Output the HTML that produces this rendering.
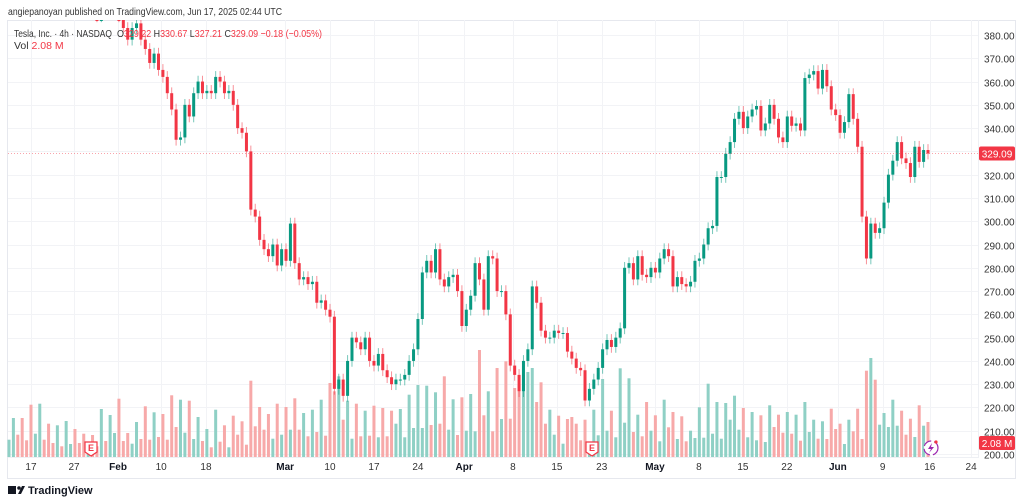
<!DOCTYPE html>
<html><head><meta charset="utf-8"><style>
html,body{margin:0;padding:0;background:#fff;}
svg{display:block;font-family:"Liberation Sans",sans-serif;}
</style></head><body>
<svg id="chart" width="1024" height="504" viewBox="0 0 1024 504" xmlns="http://www.w3.org/2000/svg">
<rect width="1024" height="504" fill="#fff"/>
<text x="8" y="15" font-size="10.5" fill="#333" textLength="274" lengthAdjust="spacingAndGlyphs">angiepanoyan published on TradingView.com, Jun 17, 2025 02:44 UTC</text>
<rect x="7.5" y="20.5" width="1008" height="458" fill="none" stroke="#e6e8ee"/>
<line x1="978.5" y1="20" x2="978.5" y2="458" stroke="#eef0f4"/>
<line x1="8" y1="457.5" x2="978" y2="457.5" stroke="#eef0f4"/>
<g id="grid"></g>
<g id="vols"></g>
<g id="candles"></g>
<g id="axes"></g>
<text x="14" y="37" font-size="10.5" fill="#333" textLength="98" lengthAdjust="spacingAndGlyphs">Tesla, Inc. · 4h · NASDAQ</text>
<text x="117" y="37" font-size="10.5" fill="#333" textLength="205" lengthAdjust="spacingAndGlyphs">O<tspan fill="#f23645">329.22</tspan> H<tspan fill="#f23645">330.67</tspan> L<tspan fill="#f23645">327.21</tspan> C<tspan fill="#f23645">329.09</tspan> <tspan fill="#f23645">−0.18 (−0.05%)</tspan></text>
<text x="14" y="49" font-size="10.5" fill="#333">Vol <tspan fill="#f23645">2.08 M</tspan></text>
<g>
<rect x="8" y="486" width="8" height="8" fill="#131722"/><circle cx="19" cy="488" r="1.8" fill="#131722"/><path d="M18 494 L22 486 L25 486 L21 494 Z" fill="#131722"/>
<text x="28" y="494" font-size="11" font-weight="bold" fill="#131722">TradingView</text>
</g>
</svg>
<script>
const closes=[418,425,420,415,
412,408,416,420,405,400,398,402,396,399,404,400,395,392,394,
390,388,392,390,392,395,388,383,378,383,385,378,374,368,372,365,362,355,348,335,336,350,345,355,360,355,356,355,362,360,355,356,350,340,338,330,305,302,292,288,285,290,281,288,283,299,282,275,276,273,274,265,266,262,259,228,232,225,240,250,248,245,250,240,238,243,236,233,230,232,232,234,240,245,258,278,283,278,288,275,272,276,277,270,255,262,268,282,275,262,285,284,270,270,260,238,234,227,240,245,272,265,253,250,250,
253,252,252,244,241,237,236,223,228,232,237,245,249,246,250,254,280,282,275,285,277,276,280,278,284,288,285,272,276,273,272,274,283,284,
290,297,298,319,319,329,334,344,347,340,345,348,349.5,339,342,350,344,336,334,345,341,342,339,361.5,363,364.5,357,365,358,348,345.6,338,342.6,354.6,344,332,
302,284,299,295,297,308,320,326,334,327,325,319,332,325.5,330.6,329.09];
const volumes=[17.3,39,22.3,39,16.7,52.3,23.3,53.3,17.3,33.3,
14,31.7,10.7,36,13,28,14,23.3,10,22,
10.7,48,16,42,24,58.3,16,24,13.3,35,
18,50.7,17.3,44.7,20,43,17.3,61.7,30,57.3,
24.3,56.3,18,40,16,28,9.7,47.3,15.3,31.7,
9.7,41.3,22.3,35.7,12.3,76.3,30.7,50,27.3,43,
18.3,53.3,22.3,50,27.3,58.7,27.3,44,20.7,47.3,
25,57.3,21.3,74,65.7,80.7,37.3,56.3,18.3,53.3,
20.7,46.3,21.3,51.3,19.7,49,20.7,46.3,33.3,48,
19.7,62.3,29,72,29,71.3,32,64.7,33.3,80.7,
27.3,57.7,22,59.7,26.3,63,
25.7,107,41.7,65.7,25.7,89,38,95.7,38.3,69,
72.3,82.3,85,89,55,74.7,33.3,47.3,22.3,41.3,
13.3,38,40,33.3,16.7,37.3,7,47.3,21.7,78,
26.3,46.3,19.7,88.7,34.3,78.7,25,42.3,20.7,55,
26.3,41.7,15.7,57.3,29.7,45,18,40.7,15.7,26.3,
19,49.7,19.3,73.3,23.3,55,18.3,54,37.3,61.3,
27.3,49,19.7,45,16.7,41.7,15,51.7,30,42.3,
24.3,45,23.3,42.3,16.3,55,25,37.3,18.3,35.7,
18,48.3,28,33.3,13,37.3,25.7,48.3,18,86.3,
99,77.3,32.3,44,30,57.3,31.3,46.3,22.3,38.3,
20,51.7,31.3,35];
const priceTicks=[380,370,360,350,340,330,320,310,300,290,280,270,260,250,240,230,220,210,200];
const dateLabels=["17","27","Feb","10","18","Mar","10","17","24","Apr","8","15","23","May","8","15","22","Jun","9","16","24"];
const dateBarIndex=[5,14.8,24.8,34.6,44.8,62.8,73,83,93,103.5,114.6,124.6,134.8,146.9,156.9,166.9,176.9,188.5,198.7,209.4,218.8];
const lastPrice=329.09;

const N=Math.min(closes.length,volumes.length);
const X0=9, X1=928;
const step=(X1-X0)/(N-1);
const xScale=i=>X0+i*step;
const yPrice=p=>35+(380-p)*2.328;
const yVol=v=>457-v;
const NS="http://www.w3.org/2000/svg";
function mk(tag,attrs,parent){const e=document.createElementNS(NS,tag);for(const k in attrs)e.setAttribute(k,attrs[k]);parent.appendChild(e);return e;}
const grid=document.getElementById('grid'),vg=document.getElementById('vols'),cg=document.getElementById('candles'),ag=document.getElementById('axes');
const GREEN="#089981",RED="#f23645";

priceTicks.forEach(p=>{
  const y=Math.round(yPrice(p))+0.5;
  const gl=mk('line',{x1:8,x2:978,y1:y,y2:y,stroke:'#f2f3f6'},grid);
  
  
  const t=mk('text',{x:984,y:y+4,'font-size':10,fill:'#333'},ag);
  t.textContent=p.toFixed(2);
  
  
});
dateLabels.forEach((d,k)=>{
  const x=xScale(dateBarIndex[k]);
  const gl=mk('line',{x1:Math.round(x)+0.5,x2:Math.round(x)+0.5,y1:20,y2:457,stroke:'#f2f3f6'},grid);
  
  
  const isMonth=isNaN(+d);
  const t=mk('text',{x:x,y:470,'font-size':10,'text-anchor':'middle',fill:isMonth?'#131722':'#333','font-weight':isMonth?'bold':'normal'},ag);
  t.textContent=d;
  
  
});

for(let i=0;i<N;i++){
  const c=closes[i], o=i>0?closes[i-1]:c;
  const up=c>=o;
  const x=xScale(i);
  const vh=volumes[i];
  const vb=mk('rect',{x:x-1.5,y:yVol(vh),width:3,height:vh,fill:up?'#8fd0c5':'#f7a9a9'},vg);
  
  
  const hi=Math.max(o,c)+2.5, lo=Math.min(o,c)-2.5;
  const col=up?GREEN:RED;
  const yh=Math.max(yPrice(hi),20), yl=yPrice(lo);
  if(yl<20) continue;
  const w=mk('line',{x1:x,x2:x,y1:yh,y2:yl,stroke:col,'stroke-opacity':0.55,'stroke-width':1},cg);
  
  
  const yt=Math.max(yPrice(Math.max(o,c)),20), yb=yPrice(Math.min(o,c));
  const b=mk('rect',{x:x-1.5,y:yt,width:3,height:Math.max(yb-yt,1),fill:col},cg);
  
  
}
const ly=yPrice(lastPrice);
const pl=mk('line',{x1:8,x2:978,y1:ly,y2:ly,stroke:RED,'stroke-opacity':0.45,'stroke-dasharray':'1 2','stroke-width':1},ag);


const pb=mk('rect',{x:979,y:ly-7,width:36,height:14,rx:2,fill:RED},ag);


const pt=mk('text',{x:997,y:ly+4,'font-size':10,'text-anchor':'middle',fill:'#fff'},ag);
pt.textContent=lastPrice.toFixed(2);


const vbx=mk('rect',{x:979,y:436,width:36,height:14,rx:2,fill:RED},ag);


const vt=mk('text',{x:997,y:447,'font-size':10,'text-anchor':'middle',fill:'#fff'},ag);
vt.textContent='2.08 M';


[91,592].forEach(x=>{
  const g=mk('g',{},ag);
  
  
  mk('path',{d:`M${x-6} 442 h12 v10 l-6 4 l-6 -4 Z`,fill:'#fff',stroke:RED,'stroke-width':1.2},g);
  const t=mk('text',{x:x,y:451,'font-size':9,'text-anchor':'middle',fill:RED,'font-weight':'bold'},g);
  t.textContent='E';
});
const lg=mk('g',{},ag);


mk('circle',{cx:931,cy:448,r:7,fill:'#fff',stroke:'#9c27b0','stroke-width':1.2,'stroke-dasharray':'9 3'},lg);
mk('path',{d:'M932 443 L928 449 L931 449 L929 453 L934 447 L931 447 Z',fill:'#9c27b0'},lg);
mk('circle',{cx:936,cy:442,r:1.6,fill:RED},lg);
</script>
</body></html>
